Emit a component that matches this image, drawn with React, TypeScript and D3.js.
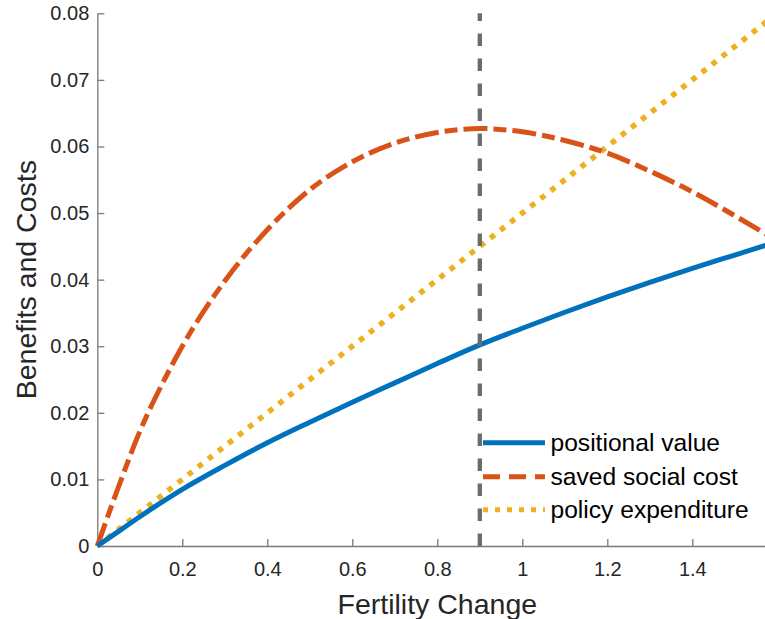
import React, { useEffect, useRef } from "react"
import * as d3 from "d3"

// fertility change grid and the three series
const fertility = [0, 0.05, 0.1, 0.15, 0.2, 0.3, 0.4, 0.5, 0.6, 0.7, 0.8, 0.9, 1.0, 1.1, 1.2, 1.3, 1.4, 1.5, 1.6]
const positionalValue = [0, 0.0022, 0.0044, 0.0065, 0.0085, 0.0121, 0.0155, 0.0186, 0.0216, 0.0245, 0.0274, 0.0302, 0.0327, 0.0351, 0.0374, 0.0396, 0.0417, 0.0437, 0.0457]
const savedSocialCost = [0, 0.0089, 0.0172, 0.024, 0.03, 0.0398, 0.0475, 0.0535, 0.0577, 0.0605, 0.0621, 0.0627, 0.0622, 0.0609, 0.059, 0.0563, 0.0532, 0.0496, 0.0458]
const policyX = [0, 1.6]
const policyExpenditure = [0, 0.08]
const optimum = 0.9

const xTicks = [0, 0.2, 0.4, 0.6, 0.8, 1, 1.2, 1.4]
const yTicks = [0, 0.01, 0.02, 0.03, 0.04, 0.05, 0.06, 0.07, 0.08]

const seriesNames = ["positional value", "saved social cost", "policy expenditure"]
const colors = ["#0072BD", "#D95319", "#EDB120"]

const FONT = "'Liberation Sans', Arial, Helvetica, sans-serif"

export default function App() {
  const svgRef = useRef<SVGSVGElement>(null)

  useEffect(() => {
    if (!svgRef.current) return
    const svg = d3.select(svgRef.current)
    svg.selectAll("*").remove()

    const left = 97.3
    const right = 777.3
    const top = 13.3
    const bottom = 546

    const x = d3.scaleLinear().domain([0, 1.6]).range([left, right])
    const y = d3.scaleLinear().domain([0, 0.08]).range([bottom, top])

    const axisColor = "#7a7a7a"
    const textColor = "#262626"

    // x axis (ticks pointing inward)
    const gx = svg
      .append("g")
      .attr("transform", `translate(0,${bottom})`)
      .call(
        d3
          .axisBottom(x)
          .tickValues(xTicks)
          .tickSizeInner(-7)
          .tickSizeOuter(0)
          .tickPadding(26)
          .tickFormat(d => String(+(+d).toFixed(2)))
      )
    gx.select(".domain").attr("stroke", axisColor).attr("stroke-width", 1.3)
    gx.selectAll(".tick line").attr("stroke", axisColor).attr("stroke-width", 1.3)
    gx.selectAll(".tick text")
      .attr("fill", textColor)
      .attr("font-size", "20px")
      .attr("font-family", FONT)
      .attr("dy", "0.2em")

    // y axis
    const gy = svg
      .append("g")
      .attr("transform", `translate(${left},0)`)
      .call(
        d3
          .axisLeft(y)
          .tickValues(yTicks)
          .tickSizeInner(-7)
          .tickSizeOuter(0)
          .tickPadding(8)
          .tickFormat(d => String(+(+d).toFixed(2)))
      )
    gy.select(".domain").attr("stroke", axisColor).attr("stroke-width", 1.3)
    gy.selectAll(".tick line").attr("stroke", axisColor).attr("stroke-width", 1.3)
    gy.selectAll(".tick text")
      .attr("fill", textColor)
      .attr("font-size", "20px")
      .attr("font-family", FONT)

    // axis labels
    svg
      .append("text")
      .attr("x", (left + right) / 2)
      .attr("y", 614)
      .attr("text-anchor", "middle")
      .attr("fill", textColor)
      .attr("font-size", "28.5px")
      .attr("font-family", FONT)
      .text("Fertility Change")

    svg
      .append("text")
      .attr("transform", `translate(36,${(top + bottom) / 2}) rotate(-90)`)
      .attr("text-anchor", "middle")
      .attr("fill", textColor)
      .attr("font-size", "28.5px")
      .attr("font-family", FONT)
      .text("Benefits and Costs")

    const line = d3
      .line<number>()
      .x((_, i) => x(fertility[i]))
      .y(d => y(d))
      .curve(d3.curveMonotoneX)

    // policy expenditure (dotted)
    svg
      .append("path")
      .attr(
        "d",
        d3.line<number>().x((_, i) => x(policyX[i])).y(d => y(d))(policyExpenditure)
      )
      .attr("fill", "none")
      .attr("stroke", colors[2])
      .attr("stroke-width", 5.5)
      .attr("stroke-dasharray", "5.5,7.3")

    // saved social cost (dash-dot, thick)
    svg
      .append("path")
      .attr("d", line(savedSocialCost))
      .attr("fill", "none")
      .attr("stroke", colors[1])
      .attr("stroke-width", 5)
      .attr("stroke-dasharray", "24,6,13,6")

    // positional value (solid)
    svg
      .append("path")
      .attr("d", line(positionalValue))
      .attr("fill", "none")
      .attr("stroke", colors[0])
      .attr("stroke-width", 5)

    // vertical marker at the optimum, drawn bottom up
    svg
      .append("line")
      .attr("x1", x(optimum))
      .attr("x2", x(optimum))
      .attr("y1", bottom)
      .attr("y2", top)
      .attr("stroke", "#6b6b6b")
      .attr("stroke-width", 4.3)
      .attr("stroke-dasharray", "12.5,12.5")

    // legend
    const legendRows = [442.7, 476.7, 509.8]
    const dashes = [null, "17,9", "5,7"]
    seriesNames.forEach((name, i) => {
      const ly = legendRows[i]
      const l = svg
        .append("line")
        .attr("x1", 483)
        .attr("x2", 545)
        .attr("y1", ly)
        .attr("y2", ly)
        .attr("stroke", colors[i])
        .attr("stroke-width", 5)
      if (dashes[i]) l.attr("stroke-dasharray", dashes[i] as string)
      svg
        .append("text")
        .attr("x", 550.5)
        .attr("y", ly)
        .attr("dy", "0.35em")
        .attr("fill", "#000")
        .attr("font-size", "24.6px")
        .attr("font-family", FONT)
        .text(name)
    })
  }, [])

  return (
    <svg
      ref={svgRef}
      width={765}
      height={619}
      style={{ position: "absolute", left: 0, top: 0, background: "#fff" }}
    ></svg>
  )
}
